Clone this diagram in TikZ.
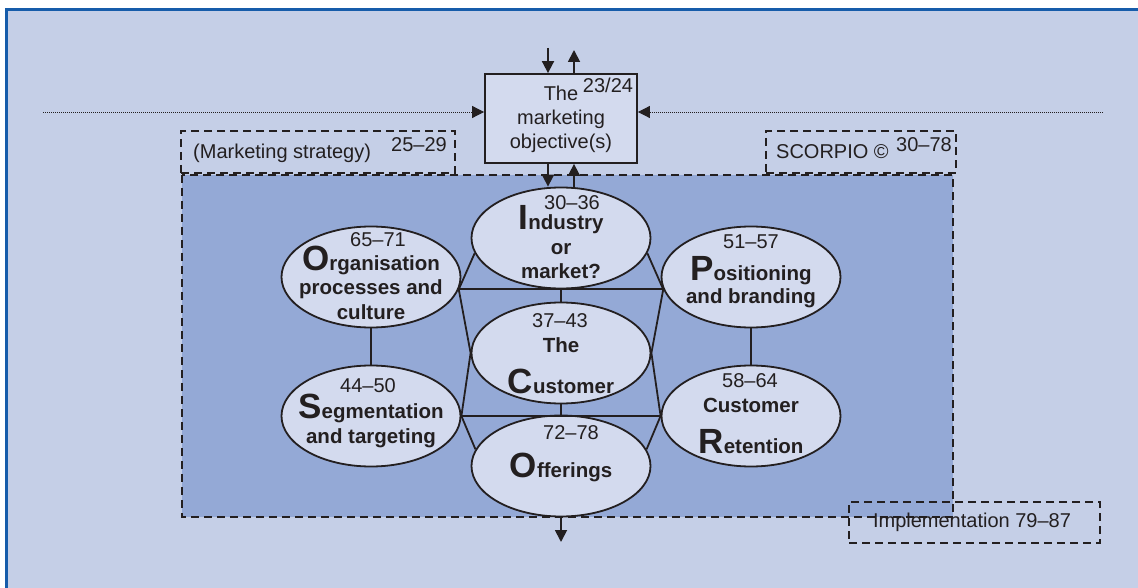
\documentclass[tikz,border=0pt]{standalone}
\usepackage{fontspec}
\setmainfont{Liberation Sans}
\usepackage{xcolor}
\usetikzlibrary{arrows.meta,shapes.geometric}

\definecolor{pagebg}{RGB}{197,207,231}
\definecolor{scorpiobg}{RGB}{148,169,214}
\definecolor{bubble}{RGB}{211,218,238}
\definecolor{framebl}{RGB}{22,92,170}
\definecolor{ink}{RGB}{35,31,32}

\newcommand{\initl}[1]{\smash{\fontsize{35}{35}\selectfont #1}}

\tikzset{
    topic/.style={ellipse, draw=ink, line width=1.8pt, fill=bubble, minimum width=179pt, minimum height=101pt, inner sep=0pt},
    words/.style={font=\fontsize{20.5}{24.5}\selectfont\bfseries, text=ink, align=center, anchor=base, inner sep=0pt},
    pages/.style={font=\fontsize{20}{24}\selectfont, text=ink, align=center, anchor=base, inner sep=0pt},
    dashbox/.style={draw=ink, line width=1.8pt, dash pattern=on 8pt off 5pt},
    link/.style={draw=ink, line width=1.8pt},
    arr/.style={link, -{Triangle[length=12pt,width=12pt]}},
    feed/.style={draw=ink, line width=0.8pt, dash pattern=on 0.8pt off 1.2pt, -{Triangle[length=12pt,width=12pt]}},
}

\begin{document}
\begin{tikzpicture}[x=1pt, y=-1pt]
                \useasboundingbox (0,0) rectangle (1138,588);
                \fill[pagebg] (5,8) rectangle (1138,588);
                \draw[framebl, line width=3pt] (6.5,588) -- (6.5,9.5) -- (1138,9.5);

                % SCORPIO area
                \draw[dashbox, fill=scorpiobg] (182,175) rectangle (953,517);
                \node[dashbox, minimum width=274pt, minimum height=42pt, inner sep=0pt] (strat) at (318,152) {};
                \node[dashbox, minimum width=190pt, minimum height=42pt, inner sep=0pt] (scorp) at (861,152) {};
                \node[dashbox, minimum width=251pt, minimum height=41pt, inner sep=0pt] (impl) at (974.5,522.5) {};
                \node[pages, anchor=base west] (strattx) at (193,159) {(Marketing strategy)};
                \node[pages] (stratpg) at (419,152) {25--29};
                \node[pages, anchor=base west] (scorptx) at (776,159) {SCORPIO \textcopyright};
                \node[pages] (scorppg) at (924,152) {30--78};
                \node[pages] (impltx) at (972,527) {Implementation 79--87};

                % objective box
                \node[draw=ink, line width=1.8pt, fill=bubble, minimum width=152pt, minimum height=89pt, inner sep=0pt] (objbox) at (561,118.5) {};
                \node[pages] (objtx) at (561,149) {The\\marketing\\objective(s)};
                \node[pages] (objpg) at (608,93) {23/24};

                \coordinate (dotL) at (43,112);
                \coordinate (dotR) at (1103,112);
                \coordinate (topin) at (548,48);
                \coordinate (topout) at (574,50);
                \coordinate (exit) at (561,542);

                \draw[feed] (dotL) -- (dotL -| objbox.west);
                \draw[feed] (dotR) -- (dotR -| objbox.east);

                % the seven SCORPIO bubbles
                \node[topic] (ind) at (561,238) {};
                \node[topic] (cust) at (561,353) {};
                \node[topic] (off) at (561,466) {};
                \node[topic] (org) at (371,277) {};
                \node[topic] (seg) at (371,416) {};
                \node[topic] (pos) at (751,277) {};
                \node[topic] (ret) at (751,416) {};

                % text nodes sit on the baseline of their last line
                \node[pages] (indpg) at (572,210) {30--36};
                \node[words] (indtx) at (561,279) {\initl{I}ndustry\\or\\market?};
                \node[pages] (custpg) at (560,327) {37--43};
                \node[words] (custtx) at (561,393) {The\\[16.5pt]\initl{C}ustomer};
                \node[pages] (offpg) at (571,439) {72--78};
                \node[words] (offtx) at (561,477) {\initl{O}fferings};
                \node[pages] (orgpg) at (378,247) {65--71};
                \node[words] (orgtx) at (371,319) {\initl{O}rganisation\\processes and\\culture};
                \node[pages] (segpg) at (368,392) {44--50};
                \node[words] (segtx) at (371,443) {\initl{S}egmentation\\and targeting};
                \node[pages] (pospg) at (751,248) {51--57};
                \node[words] (postx) at (751,303) {\initl{P}ositioning\\[-1.5pt]and branding};
                \node[pages] (retpg) at (750,387) {58--64};
                \node[words] (rettx) at (751,453) {Customer\\[16.5pt]\initl{R}etention};

                \draw[link] (org.-8) -- (pos.188);
                \draw[link] (ind.190) -- (org.-8) -- (cust.west);
                \draw[link] (ind.-10) -- (pos.188) -- (cust.east);
                \draw[link] (ind.south) -- (cust.north);
                \draw[link] (seg.east) -- (ret.west);
                \draw[link] (cust.west) -- (seg.east) -- (off.169);
                \draw[link] (cust.east) -- (ret.west) -- (off.11);
                \draw[link] (cust.south) -- (off.north);
                \draw[link] (org.south) -- (seg.north);
                \draw[link] (pos.south) -- (ret.north);

                \draw[arr] (topin) -- (topin |- objbox.north);
                \draw[arr] (topout |- objbox.north) -- (topout);
                \draw[arr] (topin |- objbox.south) -- (topin |- ind.north);
                \draw[arr] (topout |- ind.north) -- (topout |- objbox.south);
                \draw[arr] (off.south) -- (exit);
            \end{tikzpicture}
\end{document}
